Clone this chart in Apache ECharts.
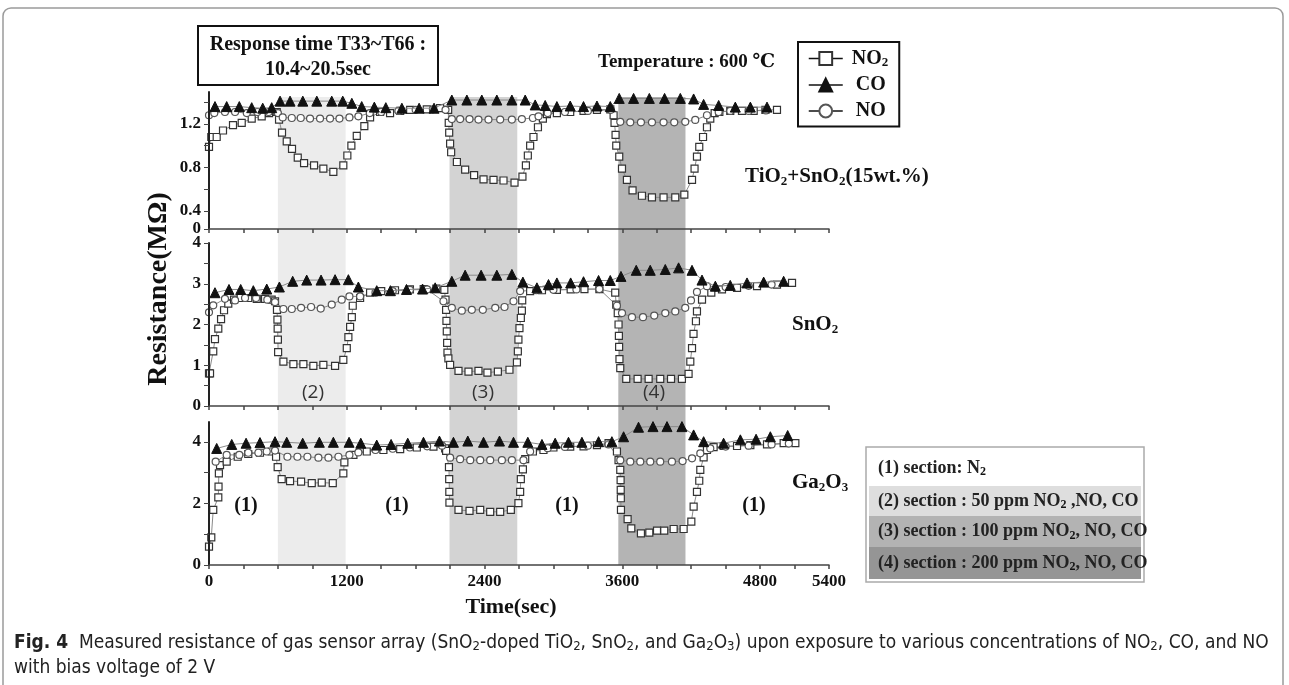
<!DOCTYPE html>
<html>
<head>
<meta charset="utf-8">
<script src="https://cdn.jsdelivr.net/npm/echarts@6/dist/echarts.min.js"></script>
<style>
html,body{margin:0;padding:0;background:#fff;}
#chart{width:1289px;height:685px;}
</style>
</head>
<body>
<div id="chart"></div>
<script>
// ---------------- DATA ----------------
const xLabelValues = [0, 1200, 2400, 3600, 4800, 5400];
const topAxisMin = 0.234;
const topTickLabels = [0.4, 0.8, 1.2];
const midTickLabels = [0, 1, 2, 3, 4];
const botTickLabels = [0, 2, 4];
const sectionStarts = [600, 2095, 3565];
const sectionEnds = [1190, 2685, 4150];

// TiO2+SnO2(15wt.%)
const tio2No2 = [[0,0.99],[20,1.08],[67,1.08],[122,1.14],[209,1.19],[285,1.21],[372,1.25],[459,1.27],[523,1.30],[590,1.31],[610,1.24],[636,1.12],[677,1.04],[723,0.97],[773,0.89],[828,0.84],[915,0.82],[996,0.79],[1083,0.76],[1170,0.82],[1205,0.91],[1240,1.00],[1287,1.09],[1353,1.18],[1403,1.26],[1490,1.31],[1577,1.30],[1665,1.32],[1752,1.33],[1897,1.335],[2013,1.345],[2083,1.33],[2088,1.21],[2092,1.12],[2100,1.02],[2109,0.94],[2159,0.85],[2231,0.78],[2309,0.73],[2391,0.69],[2478,0.685],[2565,0.68],[2661,0.66],[2730,0.715],[2760,0.82],[2777,0.91],[2797,1.00],[2826,1.08],[2865,1.17],[2908,1.25],[2943,1.29],[3030,1.30],[3146,1.31],[3262,1.32],[3379,1.33],[3495,1.335],[3524,1.28],[3532,1.21],[3541,1.10],[3547,1.00],[3573,0.90],[3597,0.79],[3640,0.685],[3689,0.59],[3771,0.54],[3858,0.525],[3959,0.525],[4061,0.525],[4140,0.55],[4207,0.685],[4229,0.79],[4250,0.90],[4270,0.99],[4303,1.08],[4337,1.17],[4366,1.25],[4404,1.30],[4445,1.31],[4540,1.32],[4642,1.32],[4744,1.32],[4846,1.33],[4947,1.33]];
const tio2Co = [[52,1.36],[154,1.36],[264,1.36],[372,1.35],[468,1.345],[546,1.35],[619,1.41],[706,1.41],[817,1.41],[939,1.41],[1069,1.41],[1165,1.41],[1244,1.39],[1330,1.36],[1440,1.355],[1540,1.35],[1680,1.345],[1830,1.345],[1960,1.345],[2115,1.42],[2246,1.42],[2376,1.42],[2507,1.42],[2638,1.42],[2754,1.42],[2841,1.375],[2928,1.37],[3030,1.36],[3146,1.365],[3262,1.36],[3379,1.365],[3495,1.36],[3573,1.435],[3698,1.435],[3835,1.435],[3968,1.435],[4105,1.435],[4221,1.43],[4308,1.38],[4439,1.37],[4584,1.355],[4715,1.355],[4860,1.355]];
const tio2No = [[0,1.28],[46,1.30],[139,1.31],[227,1.31],[329,1.30],[421,1.31],[520,1.31],[600,1.30],[642,1.26],[721,1.255],[799,1.255],[880,1.25],[967,1.25],[1054,1.25],[1136,1.25],[1223,1.26],[1301,1.27],[1400,1.30],[1500,1.31],[1650,1.32],[1800,1.33],[1950,1.335],[2060,1.33],[2115,1.245],[2187,1.245],[2269,1.245],[2347,1.24],[2434,1.24],[2536,1.24],[2638,1.24],[2725,1.245],[2821,1.255],[2870,1.27],[2950,1.30],[3100,1.31],[3300,1.32],[3500,1.33],[3582,1.22],[3669,1.215],[3762,1.215],[3858,1.215],[3959,1.215],[4052,1.215],[4148,1.22],[4235,1.237],[4337,1.28],[4439,1.31],[4540,1.32],[4700,1.32],[4850,1.325]];

// SnO2
const sno2No2 = [[0,0.80],[9,0.80],[37,1.34],[52,1.64],[81,1.90],[105,2.13],[131,2.35],[168,2.51],[218,2.61],[276,2.65],[342,2.65],[416,2.63],[488,2.63],[546,2.61],[575,2.57],[592,2.36],[596,2.12],[598,1.90],[600,1.63],[602,1.32],[648,1.09],[735,1.03],[822,1.03],[909,0.985],[996,1.01],[1098,0.985],[1170,1.13],[1200,1.42],[1214,1.69],[1229,1.94],[1244,2.18],[1252,2.46],[1316,2.65],[1403,2.78],[1500,2.82],[1620,2.84],[1750,2.86],[1870,2.87],[1980,2.88],[2050,2.85],[2060,2.61],[2065,2.36],[2068,2.09],[2071,1.83],[2074,1.55],[2077,1.31],[2085,1.17],[2100,1.01],[2173,0.86],[2260,0.845],[2347,0.86],[2425,0.82],[2516,0.845],[2617,0.89],[2682,1.07],[2690,1.34],[2695,1.63],[2704,1.91],[2716,2.16],[2725,2.34],[2728,2.59],[2797,2.82],[2900,2.84],[3030,2.85],[3150,2.86],[3270,2.87],[3400,2.87],[3538,2.78],[3547,2.49],[3560,2.28],[3567,2.0],[3570,1.72],[3572,1.45],[3575,1.15],[3582,0.93],[3634,0.665],[3733,0.665],[3829,0.665],[3930,0.665],[4024,0.665],[4119,0.665],[4177,0.79],[4192,1.09],[4207,1.42],[4220,1.77],[4241,2.08],[4250,2.32],[4294,2.61],[4375,2.78],[4468,2.86],[4599,2.90],[4773,2.94],[4947,2.98],[5078,3.02]];
const sno2Co = [[52,2.78],[174,2.86],[276,2.86],[386,2.83],[503,2.87],[613,2.92],[729,3.06],[851,3.09],[976,3.09],[1098,3.10],[1214,3.10],[1301,2.92],[1461,2.83],[1580,2.83],[1720,2.86],[1860,2.87],[1970,2.90],[2115,3.06],[2231,3.21],[2370,3.21],[2507,3.21],[2638,3.23],[2734,3.04],[2856,2.90],[2957,2.98],[3030,3.02],[3150,3.02],[3262,3.05],[3393,3.08],[3495,3.08],[3588,3.18],[3721,3.33],[3843,3.33],[3974,3.35],[4090,3.39],[4207,3.33],[4294,3.09],[4410,2.94],[4540,2.96],[4686,3.02],[4831,3.04],[5005,3.06]];
const sno2No = [[0,2.30],[37,2.47],[139,2.63],[227,2.59],[314,2.65],[410,2.65],[508,2.61],[575,2.55],[648,2.38],[721,2.38],[802,2.41],[889,2.43],[973,2.39],[1069,2.49],[1156,2.61],[1223,2.69],[1316,2.69],[1450,2.78],[1600,2.82],[1750,2.85],[1900,2.86],[2042,2.57],[2115,2.41],[2202,2.34],[2289,2.36],[2385,2.36],[2493,2.41],[2574,2.43],[2652,2.57],[2710,2.82],[2850,2.84],[3000,2.85],[3200,2.86],[3400,2.87],[3553,2.46],[3597,2.28],[3684,2.18],[3780,2.18],[3878,2.22],[3974,2.28],[4061,2.32],[4148,2.41],[4198,2.59],[4250,2.80],[4337,2.94],[4500,2.92],[4700,2.95],[4900,2.98]];

// Ga2O3
const ga2o3No2 = [[0,0.6],[20,0.9],[37,1.79],[81,2.20],[83,2.55],[86,2.98],[96,3.25],[154,3.36],[250,3.52],[342,3.61],[444,3.65],[546,3.69],[584,3.52],[598,3.18],[633,2.79],[706,2.73],[802,2.71],[895,2.66],[982,2.68],[1078,2.66],[1170,2.98],[1179,3.34],[1258,3.58],[1374,3.69],[1519,3.74],[1665,3.77],[1810,3.82],[1955,3.85],[2057,3.79],[2065,3.71],[2090,3.18],[2092,2.79],[2093,2.38],[2094,2.03],[2173,1.79],[2269,1.76],[2362,1.79],[2449,1.73],[2536,1.73],[2629,1.79],[2695,2.01],[2710,2.38],[2716,2.79],[2734,3.11],[2754,3.44],[2821,3.69],[2913,3.74],[3000,3.82],[3146,3.85],[3262,3.86],[3379,3.90],[3480,3.96],[3553,3.69],[3567,3.41],[3582,3.09],[3585,2.76],[3586,2.44],[3587,2.17],[3588,1.79],[3646,1.49],[3678,1.19],[3762,1.03],[3835,1.05],[3902,1.12],[3965,1.12],[4047,1.17],[4134,1.17],[4201,1.41],[4221,1.90],[4250,2.38],[4270,2.74],[4279,3.09],[4308,3.50],[4337,3.74],[4395,3.83],[4482,3.87],[4599,3.87],[4715,3.90],[4860,3.92],[5005,3.96],[5107,3.96]];
const ga2o3Co = [[67,3.79],[198,3.92],[323,3.96],[444,3.98],[575,4.01],[677,3.99],[816,3.96],[961,3.99],[1083,3.99],[1220,3.99],[1322,3.96],[1461,3.90],[1586,3.92],[1731,3.96],[1868,3.99],[2007,4.03],[2129,3.99],[2254,4.03],[2391,3.99],[2530,4.03],[2652,3.99],[2777,3.99],[2900,3.92],[3015,3.96],[3131,3.99],[3248,3.99],[3393,4.01],[3509,4.01],[3611,4.17],[3741,4.48],[3867,4.50],[3989,4.50],[4119,4.50],[4221,4.23],[4308,4.01],[4482,3.96],[4628,4.07],[4765,4.09],[4889,4.17],[5040,4.21]];
const ga2o3No = [[58,3.36],[154,3.58],[264,3.58],[342,3.65],[430,3.65],[503,3.69],[575,3.72],[683,3.52],[770,3.52],[857,3.52],[953,3.49],[1040,3.49],[1127,3.52],[1223,3.58],[1301,3.66],[1450,3.74],[1600,3.78],[1750,3.82],[1900,3.86],[2030,3.88],[2100,3.49],[2187,3.44],[2275,3.41],[2362,3.41],[2449,3.41],[2551,3.41],[2638,3.41],[2739,3.41],[2797,3.69],[2950,3.80],[3100,3.84],[3300,3.88],[3480,3.92],[3582,3.41],[3669,3.36],[3756,3.36],[3843,3.36],[3930,3.36],[4032,3.36],[4125,3.38],[4207,3.47],[4279,3.63],[4366,3.79],[4500,3.85],[4700,3.88],[4900,3.92],[5050,3.95]];

// ---------------- STYLE / OPTION ----------------
const SERIF = '"Liberation Serif", "DejaVu Serif", serif';
const sectionColors = ['#ececec', '#d3d3d3', '#b4b4b4'];
const PLOT_LEFT = 209, PLOT_W = 620;

const chart = echarts.init(document.getElementById('chart'));

const tickLabelStyle = {fontFamily: SERIF, fontWeight: 'bold', fontSize: 17, color: '#111'};

function xAxisFor(gi, showLabels) {
  return {
    type: 'value', gridIndex: gi, min: 0, max: 5400, interval: 300, z: 5,
    axisLine: {show: gi !== 3, lineStyle: {color: '#444', width: 1.5}},
    axisTick: {show: gi !== 3, length: 4, lineStyle: {color: '#444', width: 1.5}},
    axisLabel: showLabels ? Object.assign({customValues: xLabelValues, margin: 8, formatter: v => String(v)}, tickLabelStyle) : {show: false},
    splitLine: {show: false}
  };
}

const yAxes = [
  {type: 'value', gridIndex: 0, min: topAxisMin, max: 1.494, z: 5,
   axisLine: {show: true, lineStyle: {color: '#222', width: 2}},
   axisTick: {show: true, length: 5, customValues: [topAxisMin, 0.4, 0.6, 0.8, 1.0, 1.2, 1.4], lineStyle: {color: '#444'}},
   axisLabel: Object.assign({customValues: [topAxisMin].concat(topTickLabels), margin: 8,
     formatter: v => (v < 0.3 ? '0' : v.toFixed(1))}, tickLabelStyle),
   splitLine: {show: false}},
  {type: 'value', gridIndex: 1, min: 0, max: 4, z: 5,
   axisLine: {show: true, lineStyle: {color: '#222', width: 2}},
   axisTick: {show: true, length: 5, customValues: [0, 0.5, 1, 1.5, 2, 2.5, 3, 3.5, 4], lineStyle: {color: '#444'}},
   axisLabel: Object.assign({customValues: midTickLabels, margin: 8}, tickLabelStyle),
   splitLine: {show: false}},
  {type: 'value', gridIndex: 2, min: 0, max: 4.65, z: 5,
   axisLine: {show: true, lineStyle: {color: '#222', width: 2}},
   axisTick: {show: true, length: 5, customValues: [0, 1, 2, 3, 4], lineStyle: {color: '#444'}},
   axisLabel: Object.assign({customValues: botTickLabels, margin: 8}, tickLabelStyle),
   splitLine: {show: false}},
  {type: 'value', gridIndex: 3, min: 0, max: 1, show: false}
];

const markerStyles = {
  NO2: {symbol: 'rect', symbolSize: 7, itemStyle: {color: '#fff', borderColor: '#333', borderWidth: 1.2}},
  CO: {symbol: 'triangle', symbolSize: 10, itemStyle: {color: '#111', borderColor: '#111', borderWidth: 1}},
  NO: {symbol: 'circle', symbolSize: 7, itemStyle: {color: '#fff', borderColor: '#555', borderWidth: 1.2}}
};

function mk(name, data, gi) {
  const m = markerStyles[name];
  return {
    type: 'line', name: name, xAxisIndex: gi, yAxisIndex: gi, data: data,
    symbol: m.symbol, symbolSize: m.symbolSize, showAllSymbol: true,
    itemStyle: m.itemStyle, lineStyle: {color: '#8a8a8a', width: 1},
    emphasis: {disabled: true}, silent: true, animation: false, z: name === 'CO' ? 4 : 3
  };
}

const bgSeries = {
  type: 'line', xAxisIndex: 3, yAxisIndex: 3, data: [], silent: true, z: 0, animation: false,
  markArea: {
    silent: true,
    data: sectionStarts.map((s, i) => [{xAxis: s, itemStyle: {color: sectionColors[i]}}, {xAxis: sectionEnds[i]}])
  }
};

const sub = {fontFamily: SERIF, fontWeight: 'bold', fontSize: 13, padding: [9, 0, 0, 0], fill: '#111', color: '#111'};
const big = (fs) => ({fontFamily: SERIF, fontWeight: 'bold', fontSize: fs, fill: '#111', color: '#111'});

function txt(x, y, text, fs, align) {
  return {type: 'text', x: x, y: y, z: 20,
    style: {text: text, fontFamily: SERIF, fontWeight: 'bold', fontSize: fs, fill: '#111',
      align: align || 'left', verticalAlign: 'middle', rich: {b: big(fs), s: Object.assign({}, sub)}}};
}

const legendRows = [
  {label: '{b|(1) section: N}{s|2}', fill: '#ffffff'},
  {label: '{b|(2) section : 50 ppm NO}{s|2}{b| ,NO, CO}', fill: '#dedede'},
  {label: '{b|(3) section : 100 ppm NO}{s|2}{b|, NO, CO}', fill: '#b3b3b3'},
  {label: '{b|(4) section : 200 ppm NO}{s|2}{b|, NO, CO}', fill: '#959595'}
];
const rowTops = [450, 486, 516, 547], rowBottom = 579;

const graphics = [];
// outer frame
graphics.push({type: 'rect', z: 1, shape: {x: 3, y: 8, width: 1280, height: 700, r: 8},
  style: {fill: 'none', stroke: '#9a9a9a', lineWidth: 1.5}});
// response time box
graphics.push({type: 'rect', z: 15, shape: {x: 198, y: 26, width: 240, height: 59},
  style: {fill: '#fff', stroke: '#111', lineWidth: 2}});
graphics.push(txt(318, 45, 'Response time T33~T66 :', 20, 'center'));
graphics.push(txt(318, 70, '10.4~20.5sec', 20, 'center'));
// temperature
graphics.push(txt(598, 62, 'Temperature : 600 \u2103', 19));
// panel labels
graphics.push(txt(745, 177, '{b|TiO}{s|2}{b|+SnO}{s|2}{b|(15wt.%)}', 21));
graphics.push(txt(792, 325, '{b|SnO}{s|2}', 21));
graphics.push(txt(792, 483, '{b|Ga}{s|2}{b|O}{s|3}', 21));
// y-axis name
graphics.push({type: 'text', x: 159, y: 289, rotation: Math.PI / 2, z: 20,
  style: {text: 'Resistance(M\u03A9)', fontFamily: SERIF, fontWeight: 'bold', fontSize: 28, fill: '#111', align: 'center', verticalAlign: 'middle'}});
// x-axis name
graphics.push({type: 'text', x: 511, y: 607, z: 20,
  style: {text: 'Time(sec)', fontFamily: SERIF, fontWeight: 'bold', fontSize: 22, fill: '#111', align: 'center', verticalAlign: 'middle'}});
// section numbers
[['(2)', 313], ['(3)', 483], ['(4)', 654]].forEach(p => graphics.push({type: 'text', x: p[1], y: 393, z: 20,
  style: {text: p[0], fontFamily: '"Open Sans", "Noto Sans", sans-serif', fontSize: 19, fill: '#333', align: 'center', verticalAlign: 'middle'}}));
[246, 397, 567, 754].forEach(x => graphics.push({type: 'text', x: x, y: 506, z: 20,
  style: {text: '(1)', fontFamily: SERIF, fontWeight: 'bold', fontSize: 20, fill: '#111', align: 'center', verticalAlign: 'middle'}}));
// section legend box
graphics.push({type: 'rect', z: 14, shape: {x: 866, y: 447, width: 278, height: 135},
  style: {fill: '#fff', stroke: '#aaa', lineWidth: 1.5}});
legendRows.forEach((r, i) => {
  const top = rowTops[i], bot = i < 3 ? rowTops[i + 1] : rowBottom;
  graphics.push({type: 'rect', z: 15, shape: {x: 869, y: top, width: 272, height: bot - top},
    style: {fill: r.fill, stroke: 'none'}});
  graphics.push({type: 'text', x: 878, y: (top + bot) / 2, z: 16,
    style: {text: r.label, fontFamily: SERIF, fontWeight: 'bold', fontSize: 18, fill: '#222', align: 'left', verticalAlign: 'middle',
      rich: {b: Object.assign(big(18), {fill: '#222', color: '#222'}), s: Object.assign({}, sub, {fontSize: 12, padding: [8, 0, 0, 0]})}}});
});
// caption
const capFont = '"Liberation Sans Narrow", "DejaVu Sans Condensed", "Roboto Condensed", "Liberation Sans", sans-serif';
const capRich = {
  f: {fontFamily: capFont, fontWeight: 'bold', fontSize: 19, fill: '#222'},
  t: {fontFamily: capFont, fontSize: 19, fill: '#222'},
  s: {fontFamily: capFont, fontSize: 13, fill: '#222', padding: [8, 0, 0, 0]}
};
graphics.push({type: 'text', x: 14, y: 643, z: 20,
  style: {text: '{f|Fig. 4}{t|  Measured resistance of gas sensor array (SnO}{s|2}{t|-doped TiO}{s|2}{t|, SnO}{s|2}{t|, and Ga}{s|2}{t|O}{s|3}{t|) upon exposure to various concentrations of NO}{s|2}{t|, CO, and NO}',
    fontFamily: capFont, fontSize: 19, fill: '#222', align: 'left', verticalAlign: 'middle', rich: capRich}});
graphics.push({type: 'text', x: 14, y: 668, z: 20,
  style: {text: 'with bias voltage of 2 V', fontFamily: capFont, fontSize: 19, fill: '#222', align: 'left', verticalAlign: 'middle'}});

const option = {
  backgroundColor: '#fff',
  animation: false,
  grid: [
    {left: PLOT_LEFT, top: 92, width: PLOT_W, height: 137},
    {left: PLOT_LEFT, top: 243, width: PLOT_W, height: 163},
    {left: PLOT_LEFT, top: 422, width: PLOT_W, height: 143},
    {left: PLOT_LEFT, top: 97, width: PLOT_W, height: 468}
  ],
  xAxis: [xAxisFor(0, false), xAxisFor(1, false), xAxisFor(2, true), xAxisFor(3, false)],
  yAxis: yAxes,
  legend: {
    left: 798, top: 42, orient: 'vertical', selectedMode: false,
    padding: [6, 11, 5, 10], itemGap: 5, itemWidth: 34, itemHeight: 16,
    borderColor: '#111', borderWidth: 2, backgroundColor: '#fff',
    lineStyle: {color: '#111', width: 1.5},
    data: ['NO2', 'CO', 'NO'],
    formatter: n => (n === 'NO2' ? '{b|NO}{s|2}' : '{c|' + n + '}'),
    textStyle: {fontFamily: SERIF, fontWeight: 'bold', fontSize: 20, color: '#111', lineHeight: 21,
      rich: {b: {fontFamily: SERIF, fontWeight: 'bold', fontSize: 20, color: '#111', padding: [0, 0, 0, 4]},
             c: {fontFamily: SERIF, fontWeight: 'bold', fontSize: 20, color: '#111', padding: [0, 0, 0, 8]},
             s: {fontFamily: SERIF, fontWeight: 'bold', fontSize: 13, color: '#111', padding: [9, 0, 0, 0]}}}
  },
  series: [
    bgSeries,
    mk('NO2', tio2No2, 0), mk('NO', tio2No, 0), mk('CO', tio2Co, 0),
    mk('NO2', sno2No2, 1), mk('NO', sno2No, 1), mk('CO', sno2Co, 1),
    mk('NO2', ga2o3No2, 2), mk('NO', ga2o3No, 2), mk('CO', ga2o3Co, 2)
  ],
  graphic: graphics
};
chart.setOption(option);
</script>
</body>
</html>
